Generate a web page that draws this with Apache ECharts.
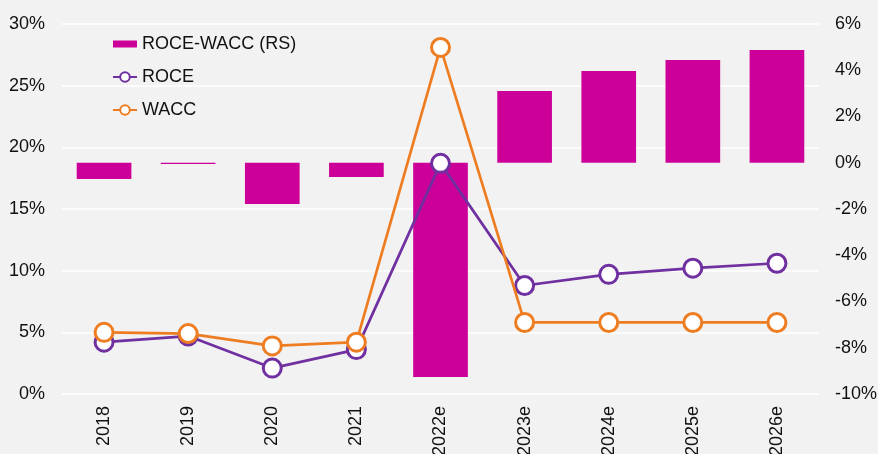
<!DOCTYPE html>
<html><head><meta charset="utf-8">
<script src="https://cdn.jsdelivr.net/npm/echarts@6/dist/echarts.min.js"></script>
<style>html,body{margin:0;padding:0;background:#f2f2f2}#c{width:878px;height:454px}</style>
</head><body><div id="c"></div>
<script>
const categories = ['2018','2019','2020','2021','2022e','2023e','2024e','2025e','2026e'];
const spread = [-0.7, -0.05, -1.78, -0.62, -9.26, 3.1, 3.97, 4.44, 4.88];
const roce = [4.2, 4.7, 2.1, 3.6, 18.7, 8.8, 9.7, 10.2, 10.6];
const wacc = [5.0, 4.9, 3.9, 4.2, 28.1, 5.8, 5.8, 5.8, 5.8];

const chart = echarts.init(document.getElementById('c'), null, {renderer:'canvas'});
const font = 'Liberation Sans, Arial, sans-serif';
chart.setOption({
  backgroundColor:'#f2f2f2',
  animation:false,
  textStyle:{fontFamily:font},
  grid:{left:62,right:59,top:24,bottom:60,containLabel:false,outerBoundsMode:'none'},
  legend:{
    orient:'vertical', left:107, top:30, itemGap:15,
    itemWidth:24, itemHeight:12,
    textStyle:{fontSize:18,color:'#111',fontFamily:font},
    data:[{name:'ROCE-WACC (RS)',icon:'path://M0,0M0,2.5h24v7H0zM24,12'},{name:'ROCE'},{name:'WACC'}]
  },
  xAxis:{
    type:'category', data:categories,
    axisLine:{show:false}, axisTick:{show:false},
    axisLabel:{rotate:90, fontSize:18, color:'#111', margin:12, fontFamily:font}
  },
  yAxis:[
    {type:'value', min:0, max:30, interval:5,
     axisLabel:{formatter:'{value}%', fontSize:18, color:'#111', margin:17, fontFamily:font},
     axisLine:{show:false}, axisTick:{show:false},
     splitLine:{lineStyle:{color:'#ffffff',width:1.5}}},
    {type:'value', min:-10, max:6, interval:2, position:'right',
     axisLabel:{formatter:'{value}%', fontSize:18, color:'#111', margin:16, fontFamily:font},
     axisLine:{show:false}, axisTick:{show:false}, splitLine:{show:false}}
  ],
  series:[
    {name:'ROCE-WACC (RS)', type:'bar', yAxisIndex:1, data:spread, barWidth:'65%',
     itemStyle:{color:'#cc0099'}},
    {name:'ROCE', type:'line', yAxisIndex:0, data:roce, symbol:'circle', symbolSize:18,
     lineStyle:{color:'#7030a0',width:2.7},
     itemStyle:{color:'#ffffff',borderColor:'#7030a0',borderWidth:3}, z:3},
    {name:'WACC', type:'line', yAxisIndex:0, data:wacc, symbol:'circle', symbolSize:18,
     lineStyle:{color:'#ee7d22',width:2.7},
     itemStyle:{color:'#ffffff',borderColor:'#ee7d22',borderWidth:3}, z:4}
  ]
});
</script></body></html>
